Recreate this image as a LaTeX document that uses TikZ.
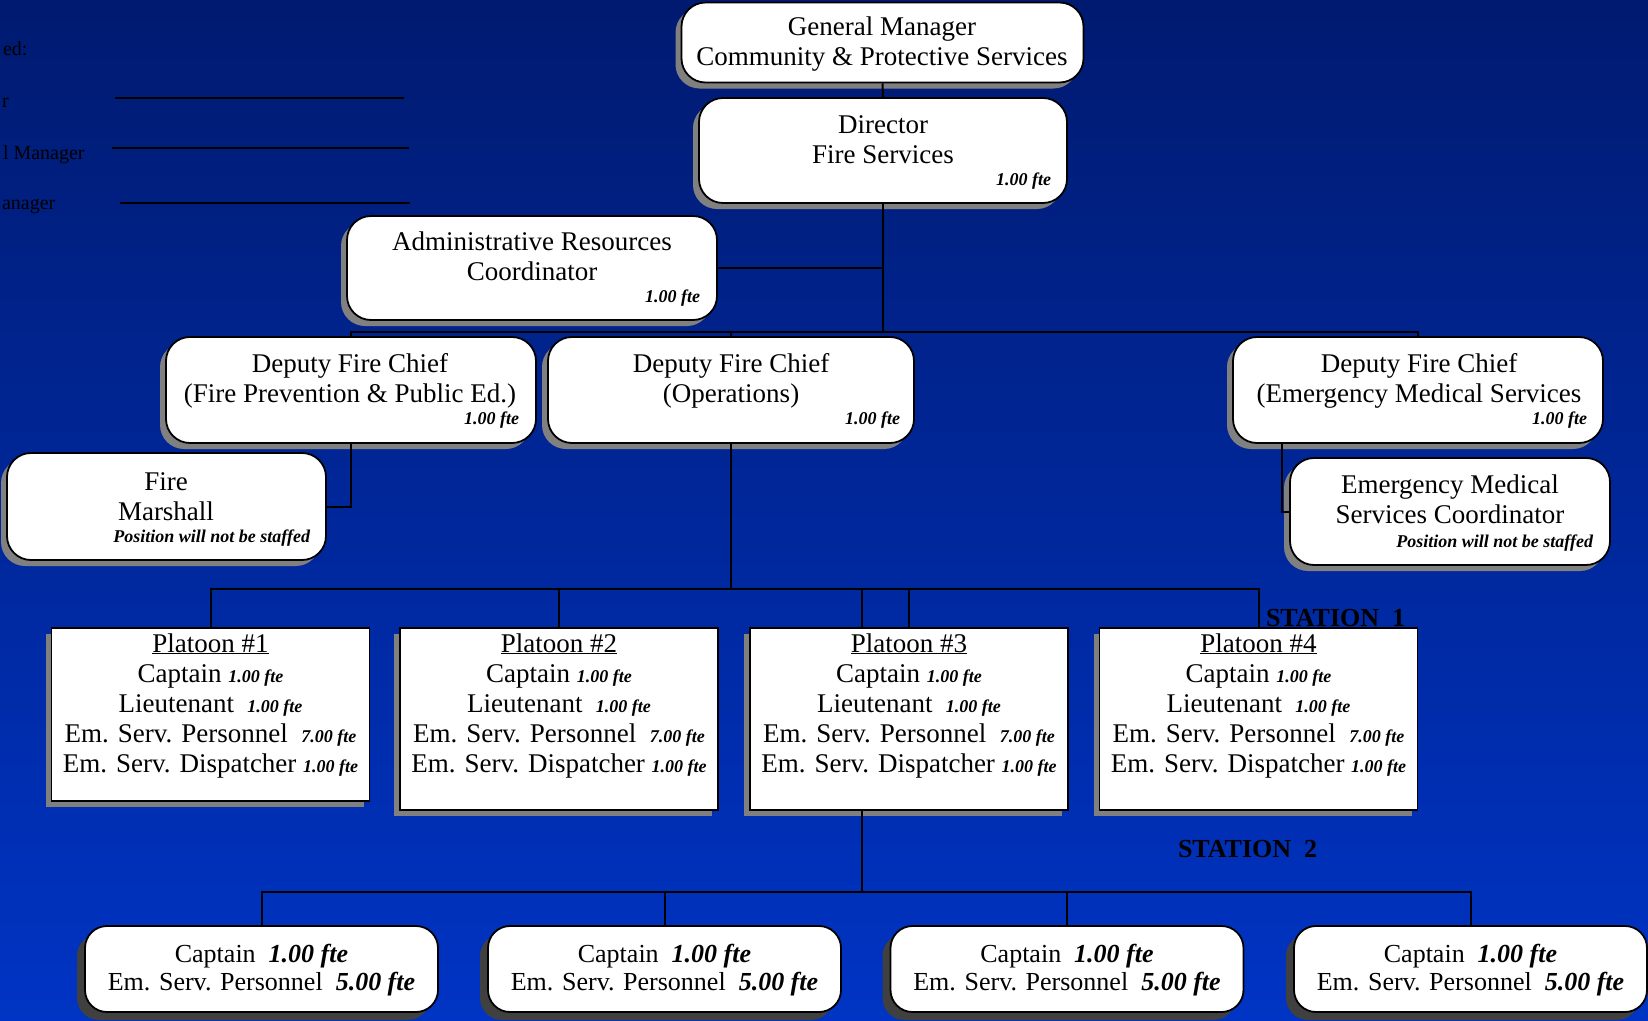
\documentclass[tikz,border=0pt]{standalone}
\usepackage{fontspec}
\setmainfont{Liberation Serif}
\usetikzlibrary{positioning, calc, shadows}
\definecolor{cBgTop}{RGB}{0,26,112}
\definecolor{cBgBot}{RGB}{0,52,196}
\definecolor{cShade}{RGB}{128,128,128}
\definecolor{cShadeD}{RGB}{64,64,64}
\newcommand{\fte}[1]{{\fontsize{18}{20}\selectfont\bfseries\itshape #1}}
\newcommand{\fteBig}[1]{{\bfseries\itshape #1}}

\begin{document}
\begin{tikzpicture}[x=1pt, y=-1pt, line width=2pt,
    box/.style={draw, fill=white, line width=1.8pt, inner sep=0pt,
        general shadow={fill=cShade, shadow xshift=-6pt, shadow yshift=-6pt}},
    rbox/.style={box, rounded corners=24pt},
    crew/.style={draw, fill=white, line width=1.8pt, inner sep=0pt, rounded corners=22pt,
        general shadow={fill=cShadeD, shadow xshift=-8pt, shadow yshift=-8pt}},
    txt/.style={align=center, inner sep=0pt, anchor=base, font=\fontsize{27}{30}\selectfont},
    ftetxt/.style={inner sep=0pt, anchor=base east, font=\fontsize{18}{20}\selectfont\bfseries\itshape},
    side/.style={inner sep=0pt, anchor=base west, font=\fontsize{20}{24}\selectfont},
    station/.style={inner sep=0pt, anchor=base west, font=\fontsize{26}{30}\selectfont\bfseries}]

    \useasboundingbox (0,0) rectangle (1648,1020);
    \fill[top color=cBgTop, bottom color=cBgBot] (0,0) rectangle (1648,1020);

    % signature block at the left edge
    \node[side] (ap) at (2,55) {ed:};
    \node[side] (s1n) at (1,107) {r};
    \node[side] (s2n) at (2,159) {l Manager};
    \node[side] (s3n) at (1,209) {anager};
    \draw (115,98) -- (404,98);
    \draw (112,148) -- (409,148);
    \draw (120,203) -- (410,203);

    % management
    \node[rbox, minimum width=402pt, minimum height=80pt] (gm) at (882.5,42.5) {};
    \node[txt] (gmT) at (882,65) {General Manager\\Community \& Protective Services};

    \node[rbox, minimum width=368pt, minimum height=105pt] (dir) at (883,150.5) {};
    \node[txt] (dirT) at (883,163) {Director\\Fire Services};
    \node[ftetxt] (dirF) at (1052,185) {1.00 fte};

    \node[rbox, minimum width=370pt, minimum height=104pt] (admin) at (532,268) {};
    \node[txt] (adminT) at (532,280) {Administrative Resources\\Coordinator};
    \node[ftetxt] (adminF) at (701,302) {1.00 fte};

    % deputies
    \node[rbox, minimum width=370pt, minimum height=106pt] (dfp) at (351,390) {};
    \node[txt] (dfpT) at (350,402) {Deputy Fire Chief\\(Fire Prevention \& Public Ed.)};
    \node[ftetxt] (dfpF) at (520,424) {1.00 fte};

    \node[rbox, minimum width=366pt, minimum height=106pt] (dops) at (731,390) {};
    \node[txt] (dopsT) at (731,402) {Deputy Fire Chief\\(Operations)};
    \node[ftetxt] (dopsF) at (901,424) {1.00 fte};

    \node[rbox, minimum width=370pt, minimum height=106pt] (dems) at (1418,390) {};
    \node[txt] (demsT) at (1419,402) {Deputy Fire Chief\\(Emergency Medical Services};
    \node[ftetxt] (demsF) at (1588,424) {1.00 fte};

    \node[rbox, minimum width=319pt, minimum height=107pt] (fm) at (166.5,506.5) {};
    \node[txt] (fmT) at (166,520) {Fire\\Marshall};
    \node[ftetxt] (fmF) at (311,542) {Position will not be staffed};

    \node[rbox, minimum width=320pt, minimum height=107pt] (ems) at (1450,511.5) {};
    \node[txt] (emsT) at (1450,523) {Emergency Medical\\Services Coordinator};
    \node[ftetxt] (emsF) at (1594,547) {Position will not be staffed};

    % station 1 platoons
    \foreach \k/\cx/\bh in {1/210.5/173, 2/559/182, 3/909/182, 4/1258.5/182} {
        \node[box, minimum width=318pt, minimum height=\bh*1pt] (p\k) at (\cx,628+\bh/2) {};
        \node[txt] (p\k T) at (\cx,772) {\underline{Platoon \#\k}\\Captain\ \fte{1.00 fte}\\
            Lieutenant\ \ \fte{1.00 fte}\\Em. Serv. Personnel\ \ \fte{7.00 fte}\\
            Em. Serv. Dispatcher\ \fte{1.00 fte}};
    }
    \node[station] (st1) at (1265,626) {STATION\ \ 1};
    \node[station] (st2) at (1177,857) {STATION\ \ 2};

    % station 2 crews
    \foreach \k/\cx in {1/261.5, 2/664.5, 3/1067, 4/1470.5} {
        \node[crew, minimum width=353pt, minimum height=86pt] (c\k) at (\cx,969) {};
        \node[txt, font=\fontsize{26}{28}\selectfont] (c\k T) at (\cx,990)
            {Captain\ \ \fteBig{1.00 fte}\\Em. Serv. Personnel\ \ \fteBig{5.00 fte}};
    }

    % connectors
    \coordinate (b1) at (883,332);
    \coordinate (b2) at (731,589);
    \coordinate (b3) at (862,892);
    \coordinate (emsTap) at (1282,443);
    \draw (gm.south) -- (dir.north);
    \draw (dir.south) -- (b1);
    \draw (admin.east) -- (admin.east -| dir.south);
    \draw (dfp.north) |- (b1) -| (dems.north);
    \draw (dops.north) -- (dops.north |- b1);
    \draw (dfp.south) |- (fm.east);
    \draw (emsTap) |- (ems.west);
    \draw (dops.south) -- (b2);
    \draw (p1.north) |- (b2) -| (p4.north);
    \draw (p2.north) -- (p2.north |- b2);
    \draw (p3.north) -- (p3.north |- b2);
    \draw (b2 -| b3) -- (b3 |- p3.north);
    \draw (b3 |- p3.south) -- (b3);
    \draw (c1.north) |- (b3) -| (c4.north);
    \draw (c2.north) -- (c2.north |- b3);
    \draw (c3.north) -- (c3.north |- b3);
\end{tikzpicture}
\end{document}
